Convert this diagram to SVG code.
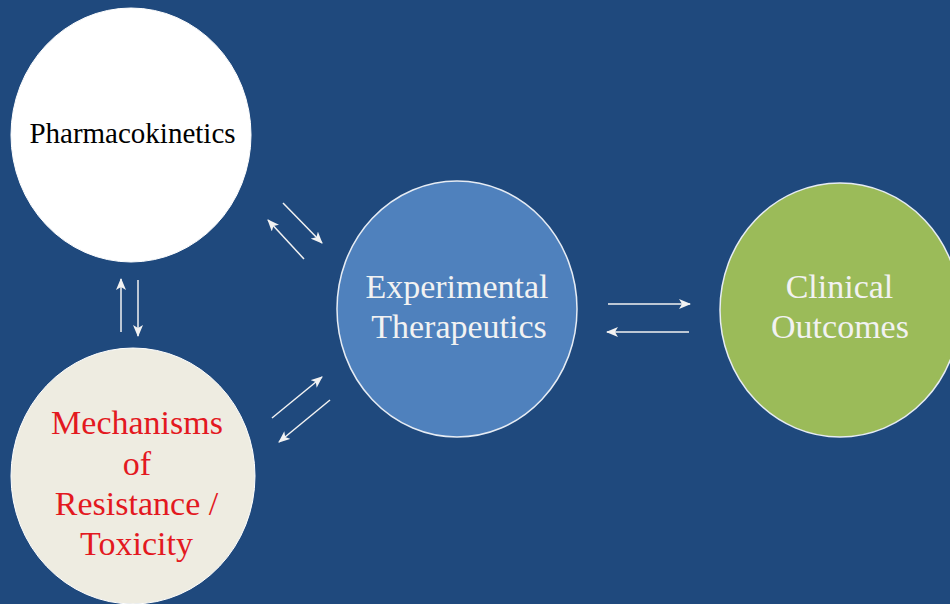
<svg xmlns="http://www.w3.org/2000/svg" width="950" height="604" viewBox="0 0 950 604">
<defs>
<marker id="ah" markerUnits="userSpaceOnUse" markerWidth="12" markerHeight="10" refX="11" refY="5" orient="auto">
<path d="M0,0 L12,5 L0,10 L3,5 Z" fill="#f2f2f2"/>
</marker>
</defs>
<style>
.c{stroke:#f2f2f2;stroke-width:1.5;fill:none;marker-end:url(#ah)}
text{text-anchor:middle;font-family:"Liberation Serif","Times New Roman",serif}
</style>
<rect width="950" height="604" fill="#1f497d"/>
<g id="pharmacokinetics">
<ellipse cx="131" cy="135" rx="120" ry="127" fill="#ffffff" stroke="#ffffff"/>
<text x="132.5" y="143" font-size="29" fill="#000000">Pharmacokinetics</text>
</g>
<g id="mechanisms">
<ellipse cx="133" cy="476" rx="122" ry="128" fill="#eeece1" stroke="#ffffff"/>
<text x="137" y="434" font-size="34" fill="#e3191f">Mechanisms</text>
<text x="137" y="475" font-size="34" fill="#e3191f">of</text>
<text x="136.5" y="515" font-size="34" fill="#e3191f">Resistance /</text>
<text x="136.5" y="555" font-size="34" fill="#e3191f">Toxicity</text>
</g>
<g id="experimental">
<ellipse cx="457" cy="309" rx="120" ry="128" fill="#4f81bd" stroke="#e6ecf4" stroke-width="1.5"/>
<text x="457" y="298" font-size="34" fill="#f2f2f2">Experimental</text>
<text x="459" y="338" font-size="34" fill="#f2f2f2">Therapeutics</text>
</g>
<g id="clinical">
<ellipse cx="840" cy="310" rx="120" ry="127" fill="#9bbb59" stroke="#e6ecf4" stroke-width="1.5"/>
<text x="839.5" y="298" font-size="34" fill="#f2f2f2">Clinical</text>
<text x="840" y="338" font-size="34" fill="#f2f2f2">Outcomes</text>
</g>
<g id="connectors">
<line class="c" x1="121" y1="332" x2="121" y2="279"/>
<line class="c" x1="138" y1="280" x2="138" y2="336"/>
<line class="c" x1="283" y1="203" x2="322" y2="243"/>
<line class="c" x1="304" y1="259" x2="268" y2="220"/>
<line class="c" x1="272" y1="418" x2="322" y2="377"/>
<line class="c" x1="330" y1="400" x2="279" y2="442"/>
<line class="c" x1="608" y1="304" x2="690" y2="304"/>
<line class="c" x1="689" y1="332" x2="607" y2="332"/>
</g>
</svg>
